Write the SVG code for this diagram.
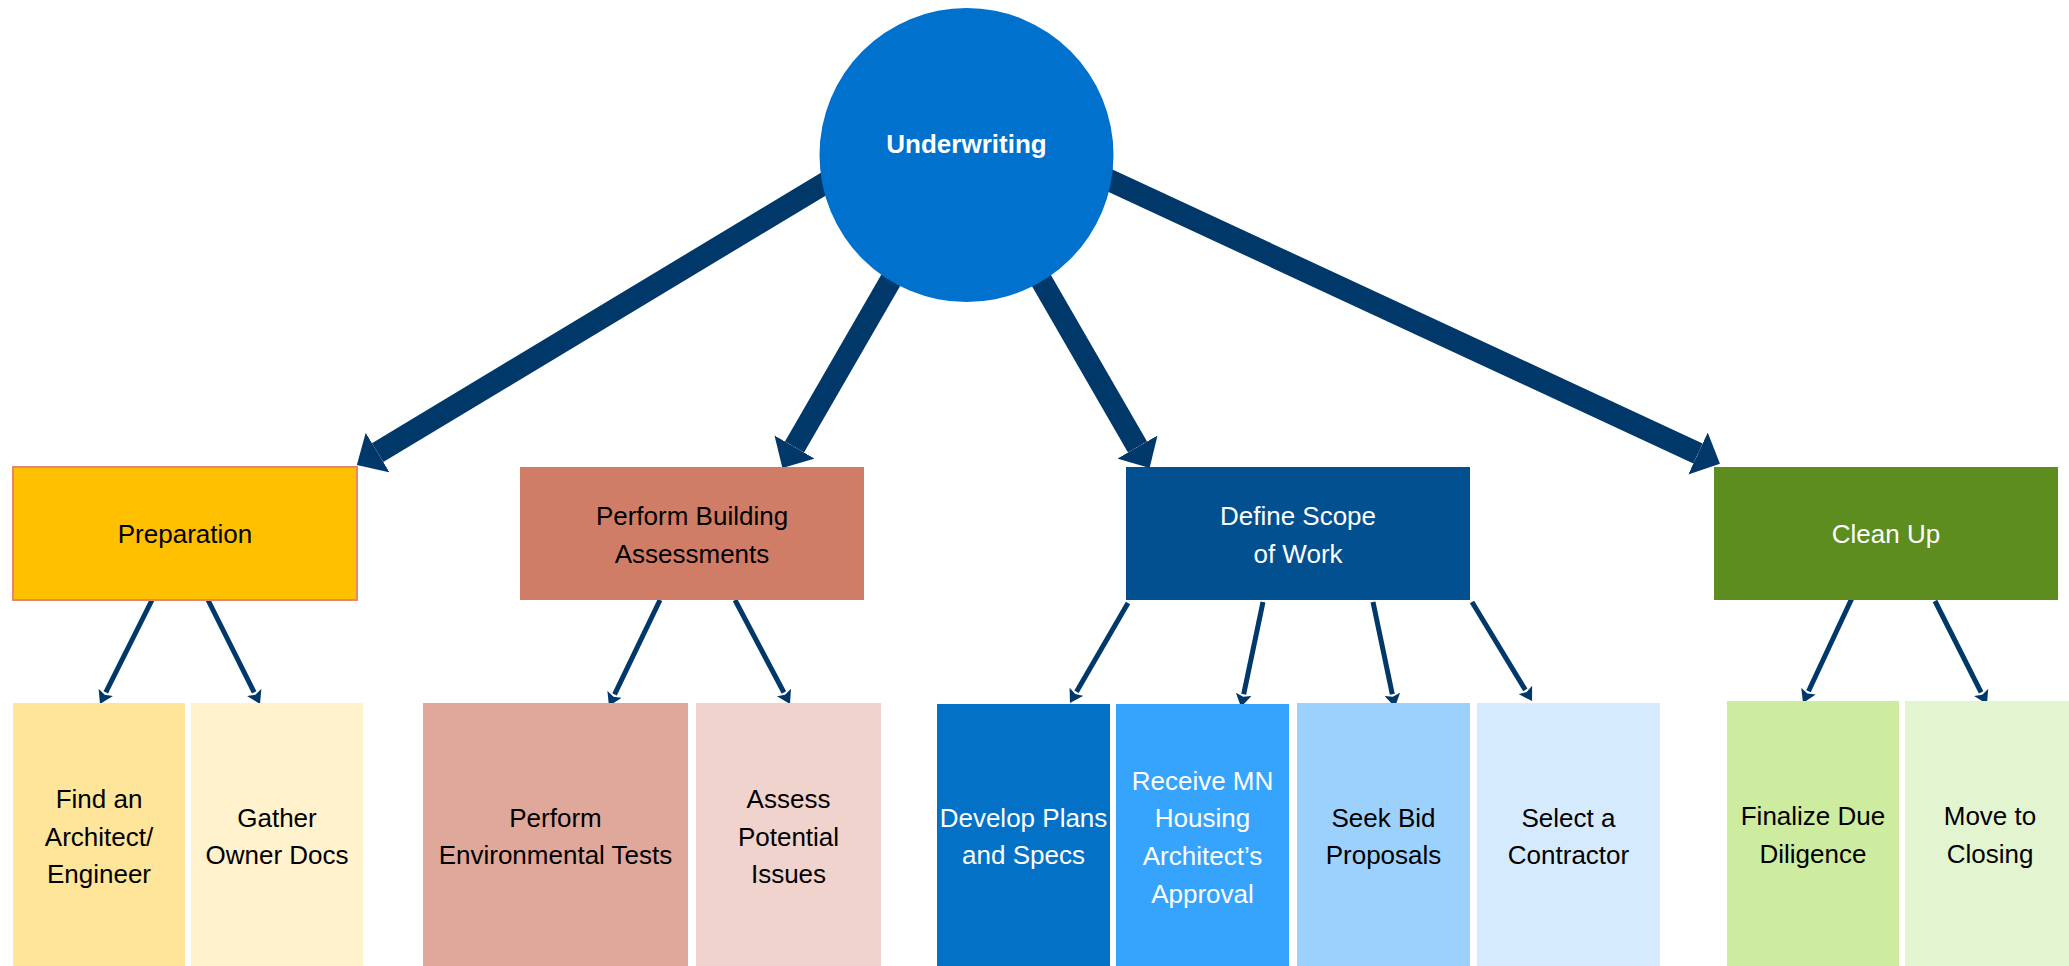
<svg xmlns="http://www.w3.org/2000/svg" width="2069" height="966" viewBox="0 0 2069 966">
<defs>
<style>
text{font-family:"Liberation Sans",Arial,sans-serif;font-size:26px;text-anchor:middle;fill:#000}
.w{fill:#fff}
.big{stroke:#00386A;stroke-width:22;fill:none}
.thin{stroke:#00386A;stroke-width:5;fill:none}
</style>
<marker id="bigHead" markerUnits="strokeWidth" viewBox="0 0 10 10" preserveAspectRatio="none" refX="0" refY="5" markerWidth="1.1" markerHeight="2.1" orient="auto">
<path d="M0,0 L10,5 L0,10 z" fill="#00386A"/>
</marker>
<marker id="thinHead" markerUnits="strokeWidth" viewBox="0 0 10 10" preserveAspectRatio="none" refX="0" refY="5" markerWidth="2.6" markerHeight="3.2" orient="auto">
<path d="M0,0 L10,5 L0,10 L2,5 z" fill="#00386A"/>
</marker>
</defs>
<rect width="2069" height="966" fill="#fff"/>
<g id="connectors">
<line class="big" x1="900" y1="138" x2="377.6" y2="452.6" marker-end="url(#bigHead)"/>
<line class="big" x1="919.5" y1="230.5" x2="794.5" y2="447" marker-end="url(#bigHead)"/>
<line class="big" x1="1012.5" y1="230.5" x2="1137.5" y2="447" marker-end="url(#bigHead)"/>
<line class="big" x1="1040" y1="148" x2="1698" y2="453.5" marker-end="url(#bigHead)"/>
<line class="thin" x1="152" y1="600" x2="105.8" y2="692.4" marker-end="url(#thinHead)"/>
<line class="thin" x1="208" y1="600" x2="254.2" y2="692.4" marker-end="url(#thinHead)"/>
<line class="thin" x1="660" y1="600" x2="614.6" y2="694.3" marker-end="url(#thinHead)"/>
<line class="thin" x1="735" y1="600" x2="783.9" y2="692.5" marker-end="url(#thinHead)"/>
<line class="thin" x1="1128" y1="603" x2="1076.5" y2="691.8" marker-end="url(#thinHead)"/>
<line class="thin" x1="1263" y1="602" x2="1243.7" y2="694.3" marker-end="url(#thinHead)"/>
<line class="thin" x1="1373" y1="602" x2="1392.3" y2="694.3" marker-end="url(#thinHead)"/>
<line class="thin" x1="1472" y1="602" x2="1525.3" y2="689.9" marker-end="url(#thinHead)"/>
<line class="thin" x1="1852" y1="598" x2="1808.5" y2="691.2" marker-end="url(#thinHead)"/>
<line class="thin" x1="1935" y1="601" x2="1981.1" y2="692.4" marker-end="url(#thinHead)"/>
</g>
<g id="underwriting">
<circle cx="966.5" cy="155" r="147" fill="#0071CC"/>
<text x="966.5" y="153" class="w" style="font-weight:bold;font-size:26px">Underwriting</text>
</g>
<g id="preparation">
<rect x="13" y="467" width="344" height="133" fill="#FFC000" stroke="#E3876F" stroke-width="2"/>
<text x="185" y="543">Preparation</text>
</g>
<g id="assessments">
<rect x="520" y="467" width="344" height="133" fill="#D07D68"/>
<text x="692" y="525">Perform Building</text>
<text x="692" y="563">Assessments</text>
</g>
<g id="scope">
<rect x="1126" y="467" width="344" height="133" fill="#02508F"/>
<text x="1298" y="525" class="w">Define Scope</text>
<text x="1298" y="563" class="w">of Work</text>
</g>
<g id="cleanup">
<rect x="1714" y="467" width="344" height="133" fill="#5C8D1E"/>
<text x="1886" y="543" class="w">Clean Up</text>
</g>
<g id="architect">
<rect x="13" y="703" width="172" height="263" fill="#FFE599"/>
<text x="99" y="808">Find an</text>
<text x="99" y="846">Architect/</text>
<text x="99" y="883">Engineer</text>
</g>
<g id="ownerdocs">
<rect x="191" y="703" width="172" height="263" fill="#FFF2CC"/>
<text x="277" y="827">Gather</text>
<text x="277" y="864">Owner Docs</text>
</g>
<g id="envtests">
<rect x="423" y="703" width="265" height="263" fill="#E0A89A"/>
<text x="555.5" y="827">Perform</text>
<text x="555.5" y="864">Environmental Tests</text>
</g>
<g id="issues">
<rect x="696" y="703" width="185" height="263" fill="#F0D3CD"/>
<text x="788.5" y="808">Assess</text>
<text x="788.5" y="846">Potential</text>
<text x="788.5" y="883">Issues</text>
</g>
<g id="plans">
<rect x="937" y="704" width="173" height="262" fill="#0271C6"/>
<text x="1023.5" y="827" class="w">Develop Plans</text>
<text x="1023.5" y="864" class="w">and Specs</text>
</g>
<g id="approval">
<rect x="1116" y="704" width="173" height="262" fill="#36A4FD"/>
<text x="1202.5" y="790" class="w">Receive MN</text>
<text x="1202.5" y="827" class="w">Housing</text>
<text x="1202.5" y="865" class="w">Architect’s</text>
<text x="1202.5" y="903" class="w">Approval</text>
</g>
<g id="bids">
<rect x="1297" y="703" width="173" height="263" fill="#9CD1FE"/>
<text x="1383.5" y="827">Seek Bid</text>
<text x="1383.5" y="864">Proposals</text>
</g>
<g id="contractor">
<rect x="1477" y="703" width="183" height="263" fill="#D5EAFD"/>
<text x="1568.5" y="827">Select a</text>
<text x="1568.5" y="864">Contractor</text>
</g>
<g id="duediligence">
<rect x="1727" y="701" width="172" height="265" fill="#CDEC9F"/>
<text x="1813" y="825">Finalize Due</text>
<text x="1813" y="863">Diligence</text>
</g>
<g id="closing">
<rect x="1905" y="701" width="164" height="265" fill="#E3F5D0"/>
<text x="1990" y="825">Move to</text>
<text x="1990" y="863">Closing</text>
</g>
</svg>
